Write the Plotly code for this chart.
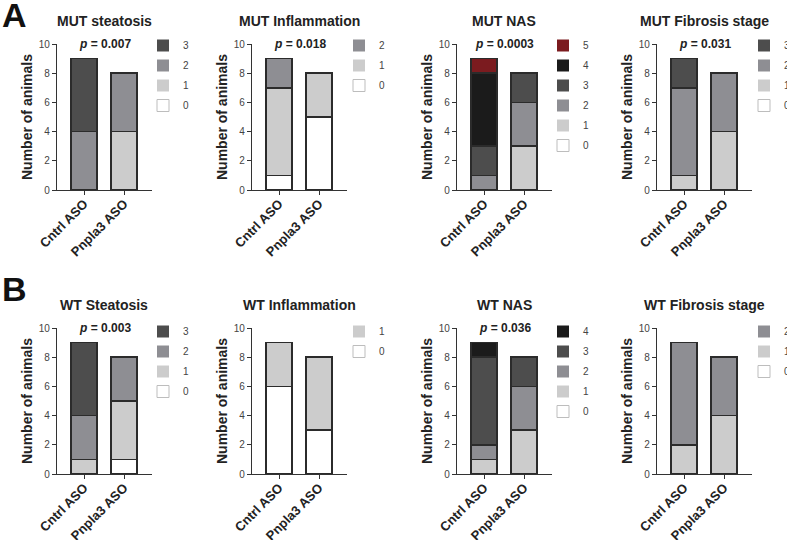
import plotly.graph_objects as go

# ---------------- data ----------------
groups = ["Cntrl ASO", "Pnpla3 ASO"]

mut_steatosis_grades = [0, 1, 2, 3]
mut_steatosis_cntrl = [0, 0, 4, 5]
mut_steatosis_pnpla3 = [0, 4, 4, 0]

mut_inflammation_grades = [0, 1, 2]
mut_inflammation_cntrl = [1, 6, 2]
mut_inflammation_pnpla3 = [5, 3, 0]

mut_nas_grades = [0, 1, 2, 3, 4, 5]
mut_nas_cntrl = [0, 0, 1, 2, 5, 1]
mut_nas_pnpla3 = [0, 3, 3, 2, 0, 0]

mut_fibrosis_grades = [0, 1, 2, 3]
mut_fibrosis_cntrl = [0, 1, 6, 2]
mut_fibrosis_pnpla3 = [0, 4, 4, 0]

wt_steatosis_grades = [0, 1, 2, 3]
wt_steatosis_cntrl = [0, 1, 3, 5]
wt_steatosis_pnpla3 = [1, 4, 3, 0]

wt_inflammation_grades = [0, 1]
wt_inflammation_cntrl = [6, 3]
wt_inflammation_pnpla3 = [3, 5]

wt_nas_grades = [0, 1, 2, 3, 4]
wt_nas_cntrl = [0, 1, 1, 6, 1]
wt_nas_pnpla3 = [0, 3, 3, 2, 0]

wt_fibrosis_grades = [0, 1, 2]
wt_fibrosis_cntrl = [0, 2, 7]
wt_fibrosis_pnpla3 = [0, 4, 4]

titles = ["MUT steatosis", "MUT Inflammation", "MUT NAS", "MUT Fibrosis stage",
          "WT Steatosis", "WT Inflammation", "WT NAS", "WT Fibrosis stage"]
pvalues = ["0.007", "0.018", "0.0003", "0.031", "0.003", None, "0.036", None]
y_ticks = [0, 2, 4, 6, 8, 10]

# ---------------- styling ----------------
W, H = 787, 540
FONT = "Arial, 'Liberation Sans', sans-serif"
grade_colors = ["#ffffff", "#cccccc", "#8e8e93", "#4d4d4d", "#1b1b1b", "#7b1b1f"]
OUTLINE = "#2b2b2b"
AXIS = "#333333"

panels = [
    (mut_steatosis_grades, mut_steatosis_cntrl, mut_steatosis_pnpla3),
    (mut_inflammation_grades, mut_inflammation_cntrl, mut_inflammation_pnpla3),
    (mut_nas_grades, mut_nas_cntrl, mut_nas_pnpla3),
    (mut_fibrosis_grades, mut_fibrosis_cntrl, mut_fibrosis_pnpla3),
    (wt_steatosis_grades, wt_steatosis_cntrl, wt_steatosis_pnpla3),
    (wt_inflammation_grades, wt_inflammation_cntrl, wt_inflammation_pnpla3),
    (wt_nas_grades, wt_nas_cntrl, wt_nas_pnpla3),
    (wt_fibrosis_grades, wt_fibrosis_cntrl, wt_fibrosis_pnpla3),
]

axis_left_px = [57, 252, 457, 657]
axis_width_px = 95
row_px = [(44, 190), (328, 474)]          # (top, bottom) of y range 0..10
legend_center_px = [163, 359, 563, 764]
legend_row1_px = [46, 332]
title_px = [21, 305]


def fx(p):
    return p / W


def fy(p):
    return 1 - p / H


fig = go.Figure()
layout = dict(
    template="none",
    width=W, height=H, margin=dict(l=0, r=0, t=0, b=0, pad=0, autoexpand=False),
    paper_bgcolor="white", plot_bgcolor="white",
    barmode="stack", bargap=0.35,
    font=dict(family=FONT, color="#222222"),
    annotations=[],
)

for i, (grades, cntrl, pnpla3) in enumerate(panels):
    row, col = divmod(i, 4)
    n = i + 1
    xa = "x" if n == 1 else f"x{n}"
    ya = "y" if n == 1 else f"y{n}"
    leg = "legend" if n == 1 else f"legend{n}"
    for g, c, p in zip(grades, cntrl, pnpla3):
        vals = [c if c else None, p if p else None]
        fig.add_trace(go.Bar(
            x=groups, y=vals, xaxis=xa, yaxis=ya, width=0.65,
            marker=dict(color=grade_colors[g], line=dict(color=OUTLINE, width=1.6)),
            showlegend=False, hoverinfo="skip",
        ))
    # legend entries, highest grade on top
    for g in reversed(grades):
        fig.add_trace(go.Bar(
            x=groups, y=[None, None], xaxis=xa, yaxis=ya, name=str(g),
            legend=leg, legendgroup=f"{n}-{g}",
            marker=dict(color=grade_colors[g],
                        line=dict(color="#bdbdbd" if g == 0 else grade_colors[g],
                                  width=1 if g == 0 else 0)),
            showlegend=True, hoverinfo="skip",
        ))

    left = axis_left_px[col]
    top, bottom = row_px[row]
    layout["xaxis" if n == 1 else f"xaxis{n}"] = dict(
        domain=[fx(left), fx(left + axis_width_px)], anchor=ya,
        range=[-0.68, 1.7], showgrid=False, zeroline=False,
        showline=True, linecolor=AXIS, linewidth=1.4,
        ticks="outside", ticklen=4, tickwidth=1.3, tickcolor=AXIS,
        tickangle=-45, tickfont=dict(size=13, color="#222222", family=FONT),
        ticklabelstandoff=-4,
        tickprefix="<b>", ticksuffix="</b>", fixedrange=True,
    )
    layout["yaxis" if n == 1 else f"yaxis{n}"] = dict(
        domain=[fy(bottom), fy(top)], anchor=xa,
        range=[0, 10], tickvals=y_ticks, showgrid=False, zeroline=False,
        showline=True, linecolor=AXIS, linewidth=1.4,
        ticks="outside", ticklen=4, tickwidth=1.3, tickcolor=AXIS,
        tickfont=dict(size=10, color="#444444", family=FONT),
        title=dict(text="<b>Number of animals</b>", font=dict(size=14, color="#222222"),
                   standoff=2),
        fixedrange=True,
    )
    layout[leg] = dict(
        x=fx(legend_center_px[col] - 20), xanchor="left",
        y=fy(legend_row1_px[row] - 15), yanchor="top",
        traceorder="grouped", tracegroupgap=1,
        font=dict(size=10, color="#444444", family=FONT),
        bgcolor="rgba(0,0,0,0)", borderwidth=0,
    )
    mid = left + axis_width_px / 2
    layout["annotations"].append(dict(
        text=f"<b>{titles[i]}</b>", x=fx(mid), y=fy(title_px[row]), xref="paper", yref="paper",
        xanchor="center", yanchor="middle", showarrow=False,
        font=dict(size=14, color="#222222", family=FONT),
    ))
    if pvalues[i]:
        layout["annotations"].append(dict(
            text=f"<b><i>p</i> = {pvalues[i]}</b>", x=0.5, y=10,
            xref=f"{xa} domain", yref=ya,
            xanchor="center", yanchor="middle", showarrow=False,
            font=dict(size=12, color="#222222", family=FONT),
        ))

for letter, ypx in (("A", 15), ("B", 289)):
    layout["annotations"].append(dict(
        text=f"<b>{letter}</b>", x=0, y=fy(ypx), xref="paper", yref="paper",
        xanchor="left", yanchor="middle", showarrow=False,
        font=dict(size=34, color="#111111", family=FONT),
    ))

fig.update_layout(**layout)
fig.write_html(
    "out.html",
    config={"displayModeBar": False},
    post_script="document.body.style.margin='0';document.body.style.overflow='hidden';",
)
